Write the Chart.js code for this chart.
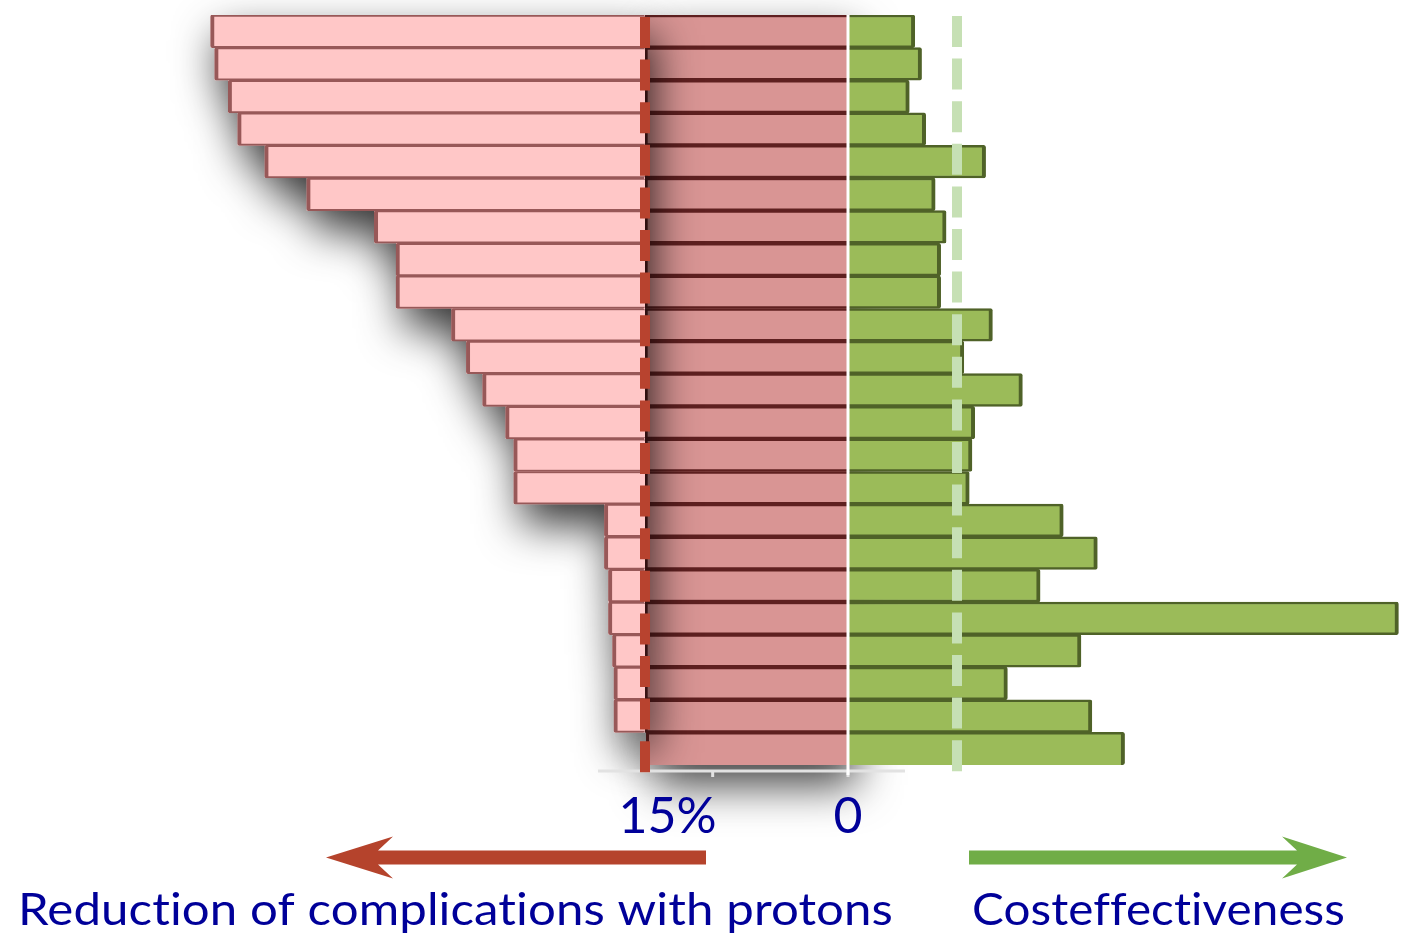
<!DOCTYPE html>
<html lang="en">
<head>
    <meta charset="UTF-8">
    <script src="https://cdn.jsdelivr.net/npm/chart.js"></script>
    <title>Protons: reduction of complications vs costeffectiveness</title>
    <style>
        body { margin: 0; background: #fff; }
        canvas { display: block; }
    </style>
</head>
<body>
    <canvas id="chart" width="1401" height="940"></canvas>

    <script>
        // Data (one row per patient / plan)
        const rows = ['1','2','3','4','5','6','7','8','9','10','11','12','13','14','15','16','17','18','19','20','21','22','23'];
        const complicationReduction = [47.1, 46.8, 45.8, 45.1, 43.1, 40.0, 35.0, 33.4, 33.4, 29.3, 28.2, 27.0,
                                       25.3, 24.7, 24.7, 18.0, 18.0, 17.7, 17.7, 17.4, 17.3, 17.3, 14.9];
        const costEffectiveness = [49, 54, 45, 57, 101, 64, 72, 68, 68, 106, 85, 128,
                                   93, 91, 89, 158, 183, 141, 404, 171, 117, 179, 203];
        const reductionThreshold = 15;   // dashed red line
        const costThreshold = 80;        // dashed green line
        const tickValues = [10, 0];
        const tickLabels = ['15%', '0'];
        const leftLabel = 'Reduction of complications with protons';
        const rightLabel = 'Costeffectiveness';

        const last = rows.length - 1;

        // Light part (beyond threshold) and dark part (up to threshold) of the pink bars
        const lightPart = complicationReduction.map(v => v > reductionThreshold ? [reductionThreshold, v] : null);
        const darkPart = complicationReduction.map(v => Math.min(v, reductionThreshold));

        // Union of the bars of a dataset, filled with a soft shadow
        function drawShadow(chart, meta, color, strength) {
            const ctx = chart.ctx;
            ctx.save();
            ctx.shadowColor = 'rgba(0,0,0,' + strength + ')';
            ctx.shadowBlur = 44;
            ctx.shadowOffsetX = 8;
            ctx.shadowOffsetY = 20;
            ctx.fillStyle = color;
            ctx.beginPath();
            meta.data.forEach(el => {
                if (el.skip) return;
                const p = el.getProps(['x', 'y', 'base', 'height'], true);
                if (p.x == null || isNaN(p.x)) return;
                const l = Math.min(p.x, p.base);
                ctx.rect(l, p.y - p.height / 2, Math.abs(p.x - p.base), p.height);
            });
            ctx.fill();
            ctx.restore();
        }

        function drawArrow(ctx, shaftTo, tip, back, notch, yMid, color) {
            ctx.save();
            ctx.fillStyle = color;
            ctx.beginPath();
            ctx.moveTo(tip, yMid);
            ctx.lineTo(back, yMid - 21);
            ctx.lineTo(notch, yMid - 7);
            ctx.lineTo(shaftTo, yMid - 7);
            ctx.lineTo(shaftTo, yMid + 7);
            ctx.lineTo(notch, yMid + 7);
            ctx.lineTo(back, yMid + 21);
            ctx.closePath();
            ctx.fill();
            ctx.restore();
        }

        function fitText(ctx, text, x, y, width, font) {
            ctx.save();
            ctx.font = font;
            ctx.letterSpacing = '0.1px'; // keeps "ti" / "ff" from turning into ligatures
            const w = ctx.measureText(text).width;
            ctx.translate(x, y);
            ctx.scale(width / w, 1);
            ctx.textAlign = 'left';
            ctx.textBaseline = 'alphabetic';
            ctx.fillText(text, 0, 0);
            ctx.restore();
        }

        const decorations = {
            id: 'decorations',
            beforeDatasetDraw(chart, args) {
                const ds = chart.data.datasets[args.index];
                if (ds.shadow) drawShadow(chart, args.meta, ds.backgroundColor, ds.shadow);
            },
            afterDatasetsDraw(chart) {
                const ctx = chart.ctx;
                const x = chart.scales.x, x2 = chart.scales.x2;
                const area = chart.chartArea;
                const zero = x.getPixelForValue(0);

                // axis line with ticks
                ctx.save();
                ctx.strokeStyle = '#e2e2e2';
                ctx.lineWidth = 3;
                ctx.beginPath();
                ctx.moveTo(598, area.bottom + 6);
                ctx.lineTo(905, area.bottom + 6);
                tickValues.forEach(v => {
                    const px = x.getPixelForValue(v);
                    ctx.moveTo(px, area.bottom + 6);
                    ctx.lineTo(px, area.bottom + 12);
                });
                ctx.stroke();

                // white zero line
                ctx.strokeStyle = '#ffffff';
                ctx.lineWidth = 3;
                ctx.beginPath();
                ctx.moveTo(zero, area.top);
                ctx.lineTo(zero, area.bottom + 10);
                ctx.stroke();

                // dashed thresholds
                ctx.lineWidth = 10;
                ctx.setLineDash([31, 11.6]);
                ctx.strokeStyle = '#c6e0b4';
                ctx.beginPath();
                const gx = x2.getPixelForValue(costThreshold);
                ctx.moveTo(gx, area.top + 1);
                ctx.lineTo(gx, area.bottom + 10);
                ctx.stroke();

                ctx.strokeStyle = '#b8432f';
                ctx.beginPath();
                const rx = x.getPixelForValue(reductionThreshold);
                ctx.moveTo(rx, area.top + 2);
                ctx.lineTo(rx, area.bottom + 10);
                ctx.stroke();
                ctx.restore();
            },
            afterDraw(chart) {
                const ctx = chart.ctx;
                const x = chart.scales.x;
                ctx.save();
                ctx.fillStyle = '#000099';
                ctx.font = '50px Lato';
                ctx.textBaseline = 'alphabetic';
                // tick labels
                ctx.textAlign = 'right';
                ctx.fillText(tickLabels[0], x.getPixelForValue(tickValues[0]) + 4, 833);
                ctx.textAlign = 'center';
                ctx.fillText(tickLabels[1], x.getPixelForValue(tickValues[1]), 833);
                ctx.restore();

                // arrows
                drawArrow(ctx, 706, 326, 393, 378, 857.5, '#b5432c');
                drawArrow(ctx, 969, 1347, 1282, 1297, 857.5, '#70ad47');

                // bottom captions
                ctx.fillStyle = '#000099';
                fitText(ctx, leftLabel, 18, 925, 875, '45px Lato');
                fitText(ctx, rightLabel, 972, 925, 373, '45px Lato');
            }
        };

        new Chart(document.getElementById('chart'), {
            type: 'bar',
            data: {
                labels: rows,
                datasets: [
                    {
                        label: 'Costeffectiveness',
                        data: costEffectiveness,
                        xAxisID: 'x2',
                        backgroundColor: '#9bbb59',
                        borderColor: '#4f6228',
                        borderSkipped: false,
                        borderWidth: c => ({ top: 2.5, bottom: c.dataIndex === last ? 0 : 2.5, left: 0, right: 4 }),
                        borderRadius: 2
                    },
                    {
                        label: 'Reduction (beyond threshold)',
                        data: lightPart,
                        xAxisID: 'x',
                        shadow: 0.8,
                        backgroundColor: '#ffc7c7',
                        borderColor: '#985858',
                        borderSkipped: false,
                        borderWidth: { top: 2, bottom: 2, left: 4, right: 0 },
                        borderRadius: 2
                    },
                    {
                        label: 'Reduction (up to threshold)',
                        data: darkPart,
                        xAxisID: 'x',
                        shadow: 0.75,
                        backgroundColor: '#d99594',
                        borderColor: '#5f2020',
                        borderSkipped: false,
                        borderWidth: c => ({ top: 2.5, bottom: c.dataIndex === last ? 0 : 2.5, left: 3, right: 0 })
                    }
                ]
            },
            options: {
                indexAxis: 'y',
                responsive: false,
                animation: false,
                grouped: false,
                categoryPercentage: 1.0,
                barPercentage: 1.0,
                layout: { padding: { top: 15, bottom: 175, left: 0, right: 0 } },
                scales: {
                    y: { display: false },
                    x: { display: false, reverse: true, min: -553 / 13.533, max: 848 / 13.533 },
                    x2: { display: false, min: -848 / 1.3625, max: 553 / 1.3625 }
                },
                plugins: {
                    legend: { display: false },
                    tooltip: { enabled: false }
                }
            },
            plugins: [decorations]
        });
    </script>
</body>
</html>
